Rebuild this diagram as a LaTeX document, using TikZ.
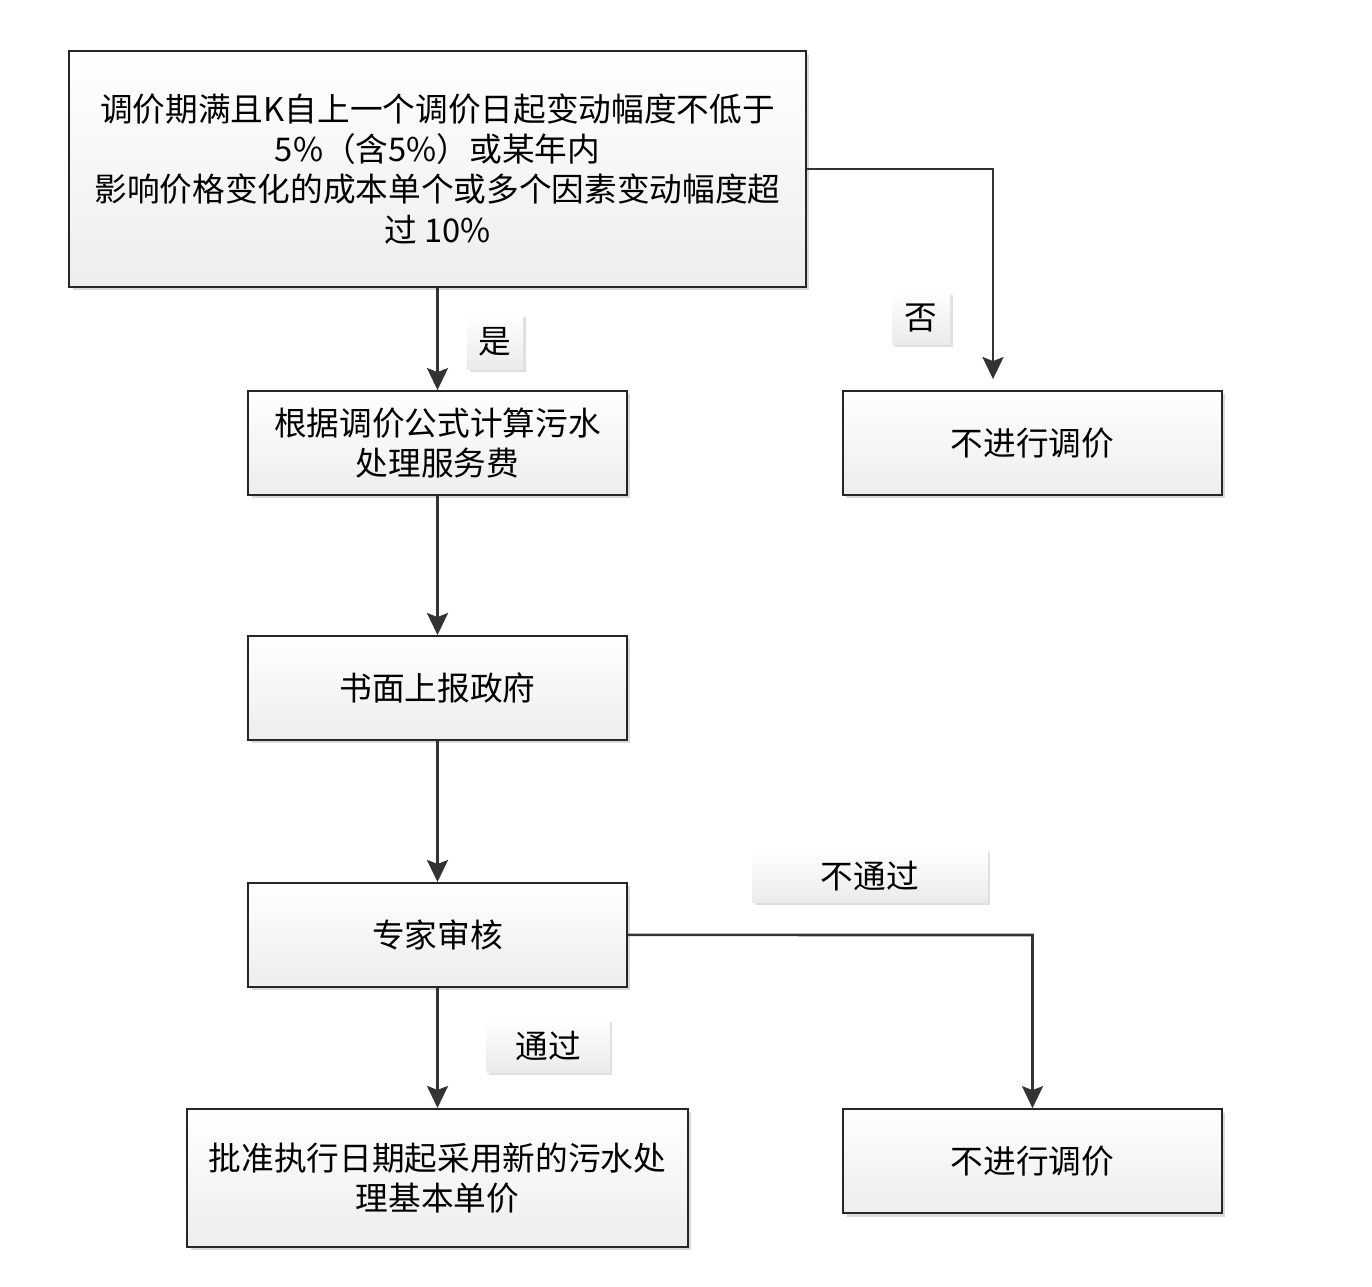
\documentclass[tikz,border=0pt]{standalone}
\usepackage{fontspec}
\setmainfont{Noto Sans CJK SC}
\usetikzlibrary{positioning,arrows.meta,shadows}

\tikzset{
  block/.style={rectangle, draw=black!85, line width=1pt, top color=white, bottom color=black!7,
    align=center, inner sep=2pt, font=\fontsize{18.6}{22.8}\selectfont,
    drop shadow={shadow xshift=0.07cm, shadow yshift=-0.07cm, fill=black!25, opacity=0.6}},
  tag/.style={rectangle, top color=white, bottom color=black!8, align=center,
    font=\fontsize{18.6}{22.8}\selectfont,
    drop shadow={shadow xshift=0.05cm, shadow yshift=-0.05cm, fill=black!20, opacity=0.6}},
  line/.style={draw=black!80, line width=1.5pt, -{Stealth[length=0.44cm, width=0.42cm, inset=0.08cm]}}
}

\begin{document}
\begin{tikzpicture}[x=0.02cm, y=-0.02cm, node distance = 4.9cm, auto]
    \useasboundingbox (0,0) rectangle (1372,1286);
    % Place nodes
    \node [block, minimum width=14.74cm, minimum height=4.72cm] (cond) at (437.5,169)
      {调价期满且K自上一个调价日起变动幅度不低于\\5\%（含5\%）或某年内\\影响价格变化的成本单个或多个因素变动幅度超\\过 10\%};
    \node [block, minimum width=7.58cm, minimum height=2.08cm, below of=cond, node distance=5.48cm] (calc)
      {根据调价公式计算污水\\处理服务费};
    \node [block, minimum width=7.58cm, minimum height=2.08cm, right of=calc, node distance=11.9cm] (keep1) {不进行调价};
    \node [block, minimum width=7.58cm, minimum height=2.08cm, below of=calc] (report) {书面上报政府};
    \node [block, minimum width=7.58cm, minimum height=2.08cm, below of=report, node distance=4.94cm] (review) {专家审核};
    \node [block, minimum width=10.02cm, minimum height=2.76cm, below of=review, node distance=4.86cm] (approve)
      {批准执行日期起采用新的污水处\\理基本单价};
    \node [block, minimum width=7.58cm, minimum height=2.08cm] (keep2) at (1032.5,1161) {不进行调价};

    % Labels
    \node [tag, minimum width=1.12cm, minimum height=1.1cm] (yes) at (495,342) {是};
    \node [tag, minimum width=1.16cm, minimum height=1.04cm] (no) at (921,318) {否};
    \node [tag, minimum width=4.72cm, minimum height=1.06cm] (fail) at (870,876) {不通过};
    \node [tag, minimum width=2.46cm, minimum height=1.06cm] (pass) at (548,1046) {通过};

    % Connectors
    \coordinate (turn1) at (993,169);
    \coordinate (turn2) at (1032.5,935);
    \path [line] (cond) -- (calc);
    \path [line, shorten >=0.22cm] (cond.east) -- (turn1) -- (turn1 |- keep1.north);
    \path [line] (calc) -- (report);
    \path [line] (report) -- (review);
    \path [line] (review) -- (approve);
    \path [line] (review.east) -- (turn2) -- (keep2.north);
\end{tikzpicture}
\end{document}
